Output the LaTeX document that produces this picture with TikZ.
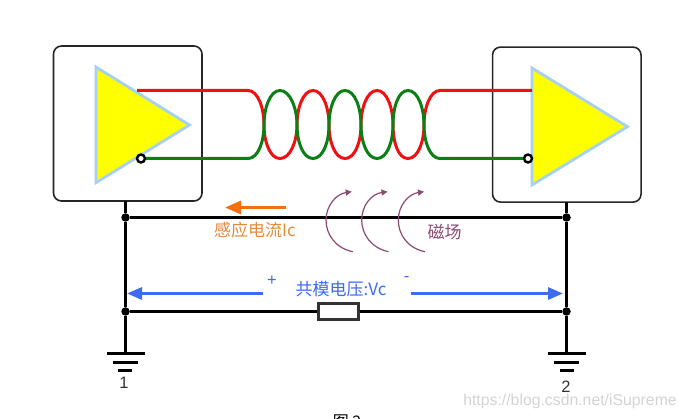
\documentclass[tikz,border=0pt]{standalone}
\usepackage{fontspec}
\setmainfont{Liberation Sans}
\newfontfamily\cjk{Noto Sans CJK SC}
\usetikzlibrary{arrows.meta}
\definecolor{coilred}{HTML}{EE1111}
\definecolor{coilgreen}{HTML}{0B7F14}
\definecolor{triedge}{HTML}{A6D1F2}
\definecolor{triyellow}{HTML}{FFFF00}
\definecolor{bluearrow}{HTML}{3C6CF0}
\definecolor{orangearrow}{HTML}{F2700F}
\definecolor{orangetext}{HTML}{E58A3C}
\definecolor{purpletext}{HTML}{8A4A72}
\definecolor{wmark}{HTML}{D4D4D4}
\tikzset{
  x=1pt,y=-1pt,
  boxrect/.style={draw=black!85,line width=1.6pt,rounded corners=8pt},
  tri/.style={draw=triedge,fill=triyellow,line width=2.8pt,line join=miter},
  redw/.style={draw=coilred,line width=3pt},
  greenw/.style={draw=coilgreen,line width=3pt},
  wire/.style={draw=black,line width=3pt},
  gnd/.style={draw=black,line width=3pt},
  junction/.style={circle,fill=black,inner sep=0pt,minimum size=8.5pt},
  invert/.style={circle,draw=black,fill=white,line width=2.4pt,inner sep=0pt,minimum size=8pt},
  res/.style={draw=black!80,fill=white,line width=2.4pt,minimum width=40pt,minimum height=16pt,inner sep=0pt},
  blarrow/.style={draw=bluearrow,line width=3pt,-{Triangle[length=15pt,width=12pt]}},
  orarrow/.style={draw=orangearrow,line width=3pt,-{Triangle[length=16pt,width=13pt]}},
  magarc/.style={draw=purpletext,line width=1.2pt,-{Triangle[length=6pt,width=6pt]}},
  lab/.style={inner sep=0pt,font=\cjk\fontsize{17}{17}\selectfont},
  latn/.style={inner sep=0pt,font=\fontsize{16.5}{16.5}\selectfont},
}
\begin{document}
\begin{tikzpicture}
\path[use as bounding box,fill=white] (0,0) rectangle (686,419);
% boxes
\node[boxrect,minimum width=148.5pt,minimum height=155pt,inner sep=0pt] (boxL) at (127.75,123.5) {};
\node[boxrect,minimum width=148.5pt,minimum height=155pt,inner sep=0pt] (boxR) at (566.8,124.6) {};
% coordinates
\coordinate (tLa) at (96,67); \coordinate (tLb) at (189.5,125); \coordinate (tLc) at (96,182.7);
\coordinate (tRa) at (532,68); \coordinate (tRb) at (627.5,126.7); \coordinate (tRc) at (532,185);
\coordinate (rs) at (137,90.5); \coordinate (re) at (532,90.5);
% triangles
\path[tri] (tLa) -- (tLb) -- (tLc) -- cycle;
\path[tri] (tRa) -- (tRb) -- (tRc) -- cycle;
\node[invert] (invL) at (141,158.5) {};
\node[invert] (invR) at (528,158.5) {};
% twisted pair
\draw[redw] (rs) -- (248,90.5)
  .. controls (258,90.5) and (264,108) .. (264,125)
  .. controls (264,142) and (270,158.5) .. (280,158.5)
  .. controls (290,158.5) and (297,142) .. (297,125)
  .. controls (297,108) and (303,90.5) .. (313,90.5)
  .. controls (323,90.5) and (329,108) .. (329,125)
  .. controls (329,142) and (335,158.5) .. (345,158.5)
  .. controls (355,158.5) and (361,142) .. (361,125)
  .. controls (361,108) and (367,90.5) .. (377,90.5)
  .. controls (387,90.5) and (393,108) .. (393,125)
  .. controls (393,142) and (398,158.5) .. (408,158.5)
  .. controls (418,158.5) and (424,142) .. (424,125)
  .. controls (424,108) and (430,90.5) .. (440,90.5) -- (re);
\draw[greenw] (invL) -- (248,158.5)
  .. controls (258,158.5) and (264,142) .. (264,125)
  .. controls (264,108) and (270,90.5) .. (280,90.5)
  .. controls (290,90.5) and (297,108) .. (297,125)
  .. controls (297,142) and (303,158.5) .. (313,158.5)
  .. controls (323,158.5) and (329,142) .. (329,125)
  .. controls (329,108) and (335,90.5) .. (345,90.5)
  .. controls (355,90.5) and (361,108) .. (361,125)
  .. controls (361,142) and (367,158.5) .. (377,158.5)
  .. controls (387,158.5) and (393,142) .. (393,125)
  .. controls (393,108) and (398,90.5) .. (408,90.5)
  .. controls (418,90.5) and (424,108) .. (424,125)
  .. controls (424,142) and (430,158.5) .. (440,158.5) -- (invR);
% black wiring
\node[junction] (jLa) at (125.5,217.5) {};
\node[junction] (jRa) at (566.5,217.5) {};
\node[junction] (jLb) at (125.5,311.5) {};
\node[junction] (jRb) at (566.5,311.5) {};
\node[res] (resistor) at (338.5,311.5) {};
\coordinate (gL) at (125.5,353.5); \coordinate (gR) at (566.5,353.5);
\coordinate (bL) at (125.5,201); \coordinate (bR) at (566.5,202);
\draw[wire] (bL) -- (jLa) -- (jLb) -- (gL);
\draw[wire] (bR) -- (jRa) -- (jRb) -- (gR);
\draw[wire] (jLa) -- (jRa);
\draw[wire] (jLb) -- (resistor) -- (jRb);
\draw[gnd] (107,353.5) -- (145,353.5) (112.5,362.5) -- (137.5,362.5) (118,370.5) -- (132,370.5);
\draw[gnd] (548,353.5) -- (586,353.5) (553.5,362.5) -- (578.5,362.5) (559.5,370.5) -- (573.5,370.5);
% arrows
\coordinate (oS) at (286,207.5); \coordinate (oE) at (225,207.5);
\draw[orarrow] (oS) -- (oE);
\coordinate (baS) at (263,293.5); \coordinate (baE) at (127,293.5);
\coordinate (bbS) at (411,293.5); \coordinate (bbE) at (563,293.5);
\draw[blarrow] (baS) -- (baE);
\draw[blarrow] (bbS) -- (bbE);
% magnetic arcs
\draw[magarc] (352.7,251.7) .. controls (335,248) and (326,234) .. (326,220) .. controls (326,206) and (336,194) .. (351.7,191.7);
\draw[magarc] (388.5,251.7) .. controls (371,248) and (361.7,234) .. (361.7,220) .. controls (361.7,206) and (371,194) .. (387.5,191.7);
\draw[magarc] (425,251.7) .. controls (407,248) and (398.3,234) .. (398.3,220) .. controls (398.3,206) and (408,194) .. (424,191.7);
% labels
\node[lab,text=orangetext] (tIc) at (255,230) {感应电流Ic};
\node[lab,text=purpletext] (tMag) at (444.5,232.5) {磁场};
\node[lab,text=bluearrow] (tVc) at (341,289) {共模电压:Vc};
\node[latn,text=bluearrow] (tPlus) at (272,280.5) {+};
\node[latn,text=bluearrow] (tMinus) at (406.5,279) {-};
\node[latn,text=black!80] (tOne) at (124,383) {1};
\node[latn,text=black!80] (tTwo) at (566,387) {2};
\node[inner sep=0pt,text=wmark,font=\fontsize{15.8}{15.8}\selectfont] (tWm) at (570,401) {https://blog.csdn.net/iSupreme};
\begin{scope}
\clip (0,0) rectangle (686,419);
\node[inner sep=0pt,font=\cjk\fontsize{16}{16}\selectfont] (tFig) at (347,422) {图 2};
\end{scope}
\end{tikzpicture}
\end{document}
